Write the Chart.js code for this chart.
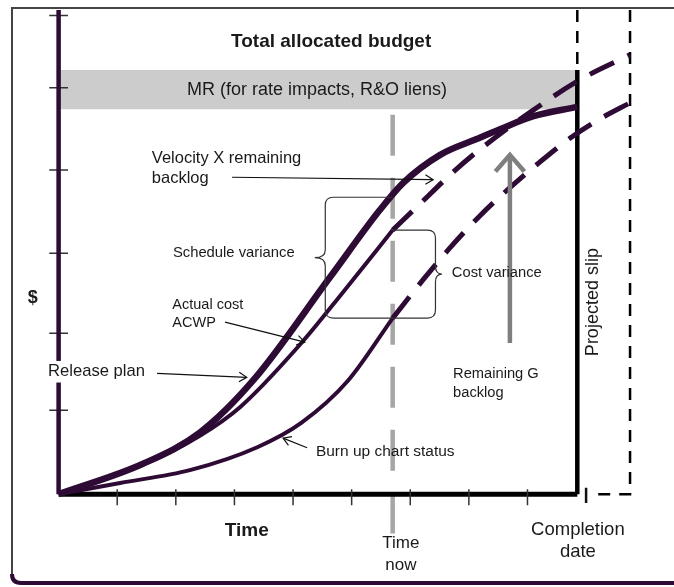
<!DOCTYPE html>
<html>
<head>
<meta charset="utf-8">
<title>Burn up chart status</title>
<script src="https://cdn.jsdelivr.net/npm/chart.js@4.4.1/dist/chart.umd.min.js"></script>
<style>
    body { margin: 0; background: #fff; }
    #wrap { position: relative; width: 674px; height: 587px; }
</style>
</head>
<body>
<div id="wrap"><canvas id="evChart"></canvas></div>
<script>
// x = reporting periods, y = budget units ($)
const timeTicks = [1, 2, 3, 4, 5, 6, 7, 8];
const slipTick = 9;
const costTicks = [1.05, 2.01, 3.01, 4.05, 5.08, 5.98];
const timeNow = 5.7;
const completionDate = 8.85;
const projectedDate = 9.75;
const mrBand = [4.81, 5.30];
const axisTop = 6.05;

// release plan (planned value)
const planTime = [0, 1.44, 2.41, 3.33, 4.63, 5.48, 5.88, 6.51, 7.14, 7.53, 8.09, 8.85];
const planCost = [0, 0.38, 0.77, 1.43, 2.71, 3.55, 3.89, 4.24, 4.44, 4.56, 4.72, 4.84];

// actual cost (ACWP) to date, then velocity x remaining backlog
const acwpTime = [0, 1.44, 2.41, 3.1, 4.12, 4.87, 5.7];
const acwpCost = [0, 0.37, 0.73, 1.09, 1.87, 2.54, 3.3];
const acwpProjTime = [5.7, 6.17, 6.68, 7.14, 8.08, 8.9, 9.75];
const acwpProjCost = [3.3, 3.63, 3.99, 4.28, 4.79, 5.18, 5.49];

// burn up chart status (earned value) to date, then projection
const evTime = [0, 1.05, 2.24, 3.4, 4.14, 4.94, 5.7];
const evCost = [0, 0.14, 0.3, 0.59, 0.89, 1.42, 2.2];
const evProjTime = [5.7, 6.22, 6.68, 7.19, 7.7, 8.21, 8.73, 9.24, 9.75];
const evProjCost = [2.2, 2.68, 3.08, 3.48, 3.83, 4.15, 4.45, 4.69, 4.89];

const purple = '#2d0b35';
const ink = '#1a1a1a';
const FONT = '"Liberation Sans", Arial, sans-serif';

const notes = [
    { text: 'Total allocated budget', at: [4.65, 5.65], size: 19, bold: true, align: 'center' },
    { text: 'MR (for rate impacts, R&O liens)', at: [4.41, 5.05], size: 18, align: 'center' },
    { text: 'Velocity X remaining', at: [1.59, 4.19], size: 16.5 },
    { text: 'backlog', at: [1.59, 3.95], size: 16.5 },
    { text: 'Schedule variance', at: [1.95, 3.01], size: 14.8 },
    { text: 'Actual cost', at: [1.94, 2.36], size: 14.5 },
    { text: 'ACWP', at: [1.94, 2.14], size: 14.5 },
    { text: 'Release plan', at: [-0.18, 1.53], size: 16.6, knockout: true },
    { text: 'Burn up chart status', at: [4.39, 0.53], size: 15.5 },
    { text: 'Cost variance', at: [6.71, 2.76], size: 14.7 },
    { text: 'Remaining G', at: [6.73, 1.5], size: 14.7 },
    { text: 'backlog', at: [6.73, 1.27], size: 14.7 },
    { text: 'Projected slip', at: [9.12, 2.4], size: 18, align: 'center', rotate: true },
    { text: '$', at: [-0.44, 2.45], size: 18, bold: true, align: 'center' },
    { text: 'Time', at: [3.21, -0.46], size: 19, bold: true, align: 'center' },
    { text: 'Time', at: [5.84, -0.61], size: 17, align: 'center' },
    { text: 'now', at: [5.84, -0.885], size: 17, align: 'center' },
    { text: 'Completion', at: [8.86, -0.45], size: 18.5, align: 'center' },
    { text: 'date', at: [8.86, -0.72], size: 18.5, align: 'center' }
];

const pointers = [
    { from: [2.96, 3.96], to: [6.39, 3.93] },
    { from: [2.84, 2.15], to: [4.2, 1.9] },
    { from: [1.68, 1.51], to: [3.21, 1.46] },
    { from: [4.24, 0.58], to: [3.83, 0.7] }
];

const braces = [
    { edge: 4.55, tip: 4.37, top: 3.71, bottom: 2.2 },
    { edge: 6.43, tip: 6.54, top: 3.3, bottom: 2.2 }
];

const backlogArrow = { x: 7.7, from: 1.89, to: 4.24 };

const pts = (xs, ys) => xs.map((x, i) => ({ x, y: ys[i] }));

const line = (data, color, width, extra = {}) => ({
    data,
    borderColor: color,
    borderWidth: width,
    pointRadius: 0,
    fill: false,
    ...extra
});

const curve = { cubicInterpolationMode: 'monotone', order: 1 };
const dashed = { borderDash: [27, 15], cubicInterpolationMode: 'monotone', order: 1 };

const xTickMarks = timeTicks.flatMap(t => [{ x: t, y: 0.06 }, { x: t, y: -0.14 }, { x: t, y: null }]);
const yTickMarks = costTicks.flatMap(v => [{ x: -0.16, y: v }, { x: 0.16, y: v }, { x: 0, y: null }]);

const drawArrow = (ctx, x0, y0, x1, y1, head, spread, color, width) => {
    const a = Math.atan2(y1 - y0, x1 - x0);
    ctx.strokeStyle = color;
    ctx.lineWidth = width;
    ctx.beginPath();
    ctx.moveTo(x0, y0);
    ctx.lineTo(x1, y1);
    ctx.stroke();
    ctx.beginPath();
    ctx.moveTo(x1 - head * Math.cos(a - spread), y1 - head * Math.sin(a - spread));
    ctx.lineTo(x1, y1);
    ctx.lineTo(x1 - head * Math.cos(a + spread), y1 - head * Math.sin(a + spread));
    ctx.stroke();
};

const drawBrace = (ctx, openX, edgeX, tipX, top, bottom) => {
    const s = Math.sign(tipX - edgeX);
    const r = 8;
    const mid = (top + bottom) / 2;
    ctx.beginPath();
    ctx.moveTo(openX, top);
    ctx.lineTo(edgeX - s * r, top);
    ctx.quadraticCurveTo(edgeX, top, edgeX, top + r);
    ctx.lineTo(edgeX, mid - r);
    ctx.quadraticCurveTo(edgeX, mid, tipX, mid);
    ctx.quadraticCurveTo(edgeX, mid, edgeX, mid + r);
    ctx.lineTo(edgeX, bottom - r);
    ctx.quadraticCurveTo(edgeX, bottom, edgeX - s * r, bottom);
    ctx.lineTo(openX, bottom);
    ctx.stroke();
};

const annotate = {
    id: 'annotate',
    beforeDraw(chart) {
        // slide frame
        const { ctx, width } = chart;
        ctx.save();
        ctx.strokeStyle = '#444';
        ctx.lineWidth = 2;
        ctx.beginPath();
        ctx.moveTo(width, 8);
        ctx.lineTo(12, 8);
        ctx.lineTo(12, 574);
        ctx.stroke();
        ctx.strokeStyle = purple;
        ctx.lineWidth = 4;
        ctx.beginPath();
        ctx.moveTo(12, 574);
        ctx.quadraticCurveTo(12, 583, 21, 583);
        ctx.lineTo(width, 583);
        ctx.stroke();
        ctx.restore();
    },
    afterDatasetsDraw(chart) {
        const { ctx, scales: { x, y } } = chart;
        const X = v => x.getPixelForValue(v);
        const Y = v => y.getPixelForValue(v);
        ctx.save();

        ctx.strokeStyle = '#333';
        ctx.lineWidth = 1.2;
        braces.forEach(b => drawBrace(ctx, X(timeNow), X(b.edge), X(b.tip), Y(b.top), Y(b.bottom)));

        pointers.forEach(p => drawArrow(ctx, X(p.from[0]), Y(p.from[1]), X(p.to[0]), Y(p.to[1]), 9, 0.55, '#111', 1.2));

        ctx.lineJoin = 'miter';
        drawArrow(ctx, X(backlogArrow.x), Y(backlogArrow.from), X(backlogArrow.x), Y(backlogArrow.to), 22, 0.72, '#7f7f7f', 4.5);

        ctx.textBaseline = 'middle';
        notes.forEach(n => {
            ctx.font = `${n.bold ? 'bold ' : ''}${n.size}px ${FONT}`;
            ctx.textAlign = n.align || 'left';
            const px = X(n.at[0]);
            const py = Y(n.at[1]);
            if (n.knockout) {
                const w = ctx.measureText(n.text).width;
                ctx.fillStyle = '#fff';
                ctx.fillRect(px - 2, py - n.size * 0.65, w + 4, n.size * 1.3);
            }
            ctx.fillStyle = ink;
            if (n.rotate) {
                ctx.save();
                ctx.translate(px, py);
                ctx.rotate(-Math.PI / 2);
                ctx.fillText(n.text, 0, 0);
                ctx.restore();
            } else {
                ctx.fillText(n.text, px, py);
            }
        });
        ctx.restore();
    }
};

new Chart(document.getElementById('evChart'), {
    type: 'line',
    data: {
        datasets: [
            line(pts([0, completionDate], [mrBand[1], mrBand[1]]), 'transparent', 0, { order: 10 }),
            line(pts([0, completionDate], [mrBand[0], mrBand[0]]), 'transparent', 0, { order: 10, fill: '-1', backgroundColor: '#cccccc' }),
            line(pts([timeNow, timeNow], [4.74, -0.49]), '#a6a6a6', 4.5, { order: 4, borderDash: [41, 22] }),
            line(pts([0, 0], [0, axisTop]), purple, 4.5, { order: 3 }),
            line(yTickMarks, '#333', 1.5, { order: 3 }),
            line(xTickMarks, '#333', 1.5, { order: 3 }),
            line(pts([slipTick, slipTick], [0.08, -0.11]), '#111', 2.5, { order: 3 }),
            line(pts([0, completionDate], [0, 0]), '#000', 5, { order: 3 }),
            line(pts([completionDate, completionDate], [0, mrBand[1]]), '#000', 4.5, { order: 3 }),
            line(pts([completionDate, completionDate], [axisTop, mrBand[1]]), '#000', 2.5, { order: 3, borderDash: [12, 9] }),
            line(pts([projectedDate, projectedDate, 9.2], [axisTop, 0, 0]), '#000', 2.5, { order: 3, borderDash: [12, 9] }),
            line(pts(planTime, planCost), purple, 6.5, curve),
            line(pts(acwpTime, acwpCost), purple, 4, curve),
            line(pts(acwpProjTime, acwpProjCost), purple, 5, dashed),
            line(pts(evTime, evCost), purple, 4, curve),
            line(pts(evProjTime, evProjCost), purple, 5, dashed)
        ]
    },
    options: {
        responsive: true,
        maintainAspectRatio: false,
        animation: false,
        events: [],
        layout: { padding: 0 },
        scales: {
            x: { type: 'linear', min: -1, max: 10.5, display: false },
            y: { type: 'linear', min: -1.16, max: 6.175, display: false }
        },
        plugins: {
            legend: { display: false },
            tooltip: { enabled: false }
        }
    },
    plugins: [annotate]
});
</script>
</body>
</html>
